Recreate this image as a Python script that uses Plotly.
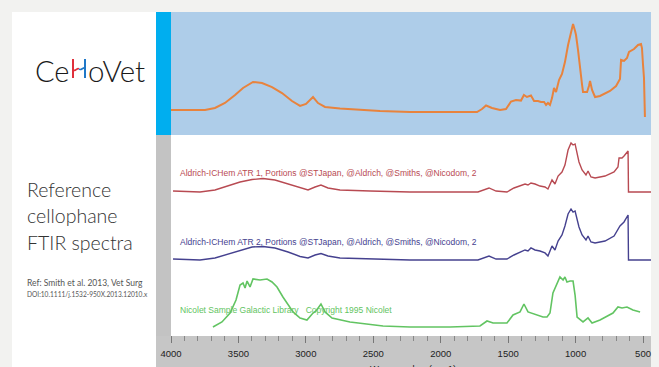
import plotly.graph_objects as go

# ---- spectra (wavenumber in cm-1, relative absorbance) ----
# top panel: sample spectrum
wn_sample = [4000, 3748, 3674, 3600, 3525, 3466, 3392, 3325, 3251, 3177, 3103, 3043, 2999,
             2947, 2910, 2858, 2747, 2599, 2450, 2228, 2005, 1783, 1731, 1694, 1664, 1620,
             1560, 1516, 1479, 1442, 1405, 1383, 1361, 1331, 1308, 1279, 1257, 1234, 1219,
             1205, 1190, 1175, 1160, 1145, 1123, 1101, 1079, 1056, 1041, 1026, 1019, 1004,
             997, 982, 967, 952, 945, 915, 901, 893, 878, 856, 819, 745, 700, 671, 663, 641,
             619, 604, 567, 537, 515, 508, 500, 493, 486]
ab_sample = [0.203, 0.203, 0.22, 0.26, 0.325, 0.382, 0.431, 0.423, 0.39, 0.341, 0.276, 0.236,
             0.252, 0.309, 0.26, 0.228, 0.215, 0.203, 0.195, 0.187, 0.187, 0.183, 0.187, 0.211,
             0.24, 0.22, 0.203, 0.211, 0.272, 0.285, 0.28, 0.325, 0.309, 0.321, 0.276, 0.276,
             0.268, 0.268, 0.244, 0.26, 0.244, 0.3, 0.382, 0.35, 0.447, 0.496, 0.593, 0.732,
             0.805, 0.854, 0.902, 0.846, 0.813, 0.691, 0.528, 0.407, 0.35, 0.35, 0.398, 0.439,
             0.366, 0.309, 0.317, 0.358, 0.398, 0.455, 0.61, 0.602, 0.626, 0.675, 0.699, 0.732,
             0.74, 0.707, 0.569, 0.463, 0.146]

# Aldrich ATR reference 1
wn_atr1 = [3985, 3785, 3674, 3577, 3488, 3399, 3318, 3229, 3132, 3043, 2984, 2932, 2888, 2836,
           2747, 2524, 2228, 1724, 1679, 1642, 1590, 1509, 1457, 1412, 1375, 1353, 1331, 1301,
           1264, 1227, 1205, 1175, 1153, 1130, 1101, 1079, 1056, 1034, 1019, 1004, 989, 975,
           952, 923, 908, 886, 856, 782, 715, 686, 678, 656, 641, 626, 619, 611, 608, 441]
ab_atr1 = [0.138, 0.123, 0.154, 0.215, 0.277, 0.315, 0.331, 0.308, 0.246, 0.185, 0.154, 0.2,
           0.231, 0.185, 0.154, 0.138, 0.123, 0.123, 0.154, 0.185, 0.138, 0.123, 0.185, 0.215,
           0.246, 0.231, 0.262, 0.246, 0.215, 0.2, 0.169, 0.308, 0.246, 0.369, 0.431, 0.538,
           0.769, 0.877, 0.846, 0.862, 0.723, 0.585, 0.462, 0.385, 0.446, 0.354, 0.338, 0.369,
           0.431, 0.508, 0.646, 0.646, 0.677, 0.723, 0.738, 0.754, 0.123, 0.123]

# Aldrich ATR reference 2
wn_atr2 = [3985, 3785, 3674, 3577, 3488, 3399, 3318, 3229, 3132, 3043, 2984, 2932, 2888, 2836,
           2747, 2524, 2228, 1724, 1679, 1642, 1590, 1509, 1457, 1412, 1375, 1353, 1331, 1301,
           1264, 1227, 1205, 1175, 1153, 1130, 1101, 1079, 1056, 1034, 1019, 1004, 989, 975,
           952, 923, 908, 886, 856, 782, 715, 686, 671, 641, 619, 611, 608, 441]
ab_atr2 = [0.092, 0.077, 0.108, 0.169, 0.231, 0.277, 0.285, 0.262, 0.2, 0.131, 0.108, 0.154,
           0.177, 0.138, 0.108, 0.092, 0.077, 0.077, 0.108, 0.138, 0.092, 0.092, 0.154, 0.2,
           0.231, 0.215, 0.262, 0.231, 0.215, 0.185, 0.138, 0.292, 0.231, 0.369, 0.462, 0.6,
           0.785, 0.862, 0.815, 0.831, 0.708, 0.585, 0.462, 0.385, 0.446, 0.354, 0.338, 0.369,
           0.446, 0.538, 0.6, 0.662, 0.754, 0.769, 0.077, 0.077]

# Nicolet library spectrum
wn_nic = [3689, 3622, 3562, 3518, 3488, 3466, 3451, 3436, 3414, 3392, 3340, 3288, 3251, 3214,
          3170, 3132, 3095, 3043, 2992, 2947, 2925, 2888, 2858, 2806, 2673, 2428, 2228, 1931,
          1709, 1657, 1612, 1509, 1464, 1412, 1383, 1353, 1286, 1242, 1212, 1190, 1168, 1138,
          1116, 1093, 1079, 1064, 1041, 1019, 1004, 989, 945, 908, 878, 819, 723, 686, 656,
          619, 575, 522]
ab_nic = [0.114, 0.186, 0.314, 0.5, 0.714, 0.743, 0.671, 0.771, 0.686, 0.8, 0.786, 0.8, 0.757,
          0.686, 0.543, 0.429, 0.329, 0.243, 0.214, 0.314, 0.343, 0.443, 0.329, 0.243, 0.186,
          0.129, 0.114, 0.114, 0.129, 0.2, 0.171, 0.171, 0.286, 0.329, 0.443, 0.329, 0.286,
          0.257, 0.257, 0.314, 0.6, 0.743, 0.829, 0.786, 0.829, 0.757, 0.771, 0.771, 0.571,
          0.257, 0.186, 0.243, 0.171, 0.214, 0.314, 0.4, 0.386, 0.4, 0.357, 0.329]

x_ticks = [4000, 3500, 3000, 2500, 2000, 1500, 1000, 500]
label_atr1 = "Aldrich-ICHem ATR 1, Portions @STJapan, @Aldrich, @Smiths, @Nicodom, 2"
label_atr2 = "Aldrich-ICHem ATR 2, Portions @STJapan, @Aldrich, @Smiths, @Nicodom, 2"
label_nic = "Nicolet Sample Galactic Library&nbsp;&nbsp;&nbsp;Copyright 1995 Nicolet"

W, H = 659, 367


def px(x):
    return x / W


def py(y):
    return 1 - y / H


fig = go.Figure()
fig.add_trace(go.Scatter(x=wn_sample, y=ab_sample, mode="lines", yaxis="y",
                         line=dict(color="#e8833d", width=2)))
fig.add_trace(go.Scatter(x=wn_atr1, y=ab_atr1, mode="lines", yaxis="y2",
                         line=dict(color="#b84a52", width=1.4)))
fig.add_trace(go.Scatter(x=wn_atr2, y=ab_atr2, mode="lines", yaxis="y3",
                         line=dict(color="#45418f", width=1.4)))
fig.add_trace(go.Scatter(x=wn_nic, y=ab_nic, mode="lines", yaxis="y4",
                         line=dict(color="#62c462", width=1.6)))

shapes = [
    # white card
    dict(type="rect", xref="paper", yref="paper", x0=px(12), x1=px(651), y0=py(372), y1=py(12),
         fillcolor="white", line_width=0, layer="below"),
    # light blue panel behind sample spectrum
    dict(type="rect", xref="paper", yref="paper", x0=px(171), x1=px(651), y0=py(135), y1=py(12),
         fillcolor="#aecde9", line_width=0, layer="below"),
    # accent bar
    dict(type="rect", xref="paper", yref="paper", x0=px(156), x1=px(171), y0=py(135), y1=py(12),
         fillcolor="#00aeef", line_width=0, layer="below"),
    # grey frame of the reference chart
    dict(type="rect", xref="paper", yref="paper", x0=px(156), x1=px(171), y0=py(372), y1=py(135),
         fillcolor="#c3c3c3", line_width=0, layer="below"),
    dict(type="rect", xref="paper", yref="paper", x0=px(156), x1=px(651), y0=py(372), y1=py(336),
         fillcolor="#c6c6c6", line_width=0, layer="below"),
    # logo "H": red and blue uprights joined by a wave
    dict(type="line", xref="paper", yref="paper", x0=px(73), x1=px(73), y0=py(78), y1=py(59),
         line=dict(color="#e0313c", width=2)),
    dict(type="line", xref="paper", yref="paper", x0=px(85), x1=px(85), y0=py(78), y1=py(59),
         line=dict(color="#1f78c8", width=2)),
    dict(type="path", xref="paper", yref="paper",
         path=f"M {px(73)},{py(70)} C {px(76)},{py(72)} {px(77)},{py(67)} {px(79)},{py(69)}",
         line=dict(color="#e0313c", width=1.6)),
    dict(type="path", xref="paper", yref="paper",
         path=f"M {px(79)},{py(69)} C {px(81)},{py(71)} {px(83)},{py(67)} {px(85)},{py(68)}",
         line=dict(color="#1f78c8", width=1.6)),
]

ann = []


def text(x, y, s, size, color, family="Lato", anchor="left", weight=None):
    f = dict(size=size, color=color, family=family)
    if weight:
        f["weight"] = weight
    ann.append(dict(x=px(x), y=py(y), xref="paper", yref="paper", text=s, showarrow=False,
                    xanchor=anchor, yanchor="middle", font=f))


text(71, 70, "Ce", 29, "#1a1a1a", anchor="right", weight=300)
text(86, 70, "oVet", 29.5, "#1a1a1a", anchor="left", weight=300)
text(25, 189, "Reference", 19.5, "#333333", weight=300)
text(25, 215, "cellophane", 19.5, "#333333", weight=300)
text(25, 242, "FTIR spectra", 19.5, "#333333", weight=300)
text(25, 283, "Ref: Smith et al. 2013, Vet Surg", 8.5, "#555555")
text(25, 294, "DOI:10.1111/j.1532-950X.2013.12010.x", 6.6, "#555555")
text(178, 173, label_atr1, 8.5, "#b84a52", family="Liberation Sans")
text(178, 242, label_atr2, 8.5, "#45418f", family="Liberation Sans")
text(178, 310, label_nic, 8.5, "#62c462", family="Liberation Sans")
text(413, 368, "Wavenumber (cm-1)", 9.5, "#222222", family="Liberation Sans", anchor="center")

yax = dict(visible=False, fixedrange=True, range=[0, 1], automargin=False)
fig.update_layout(
    template="none",
    width=W, height=H, margin=dict(l=0, r=0, t=0, b=0, pad=0, autoexpand=False),
    paper_bgcolor="#f2f2f0", plot_bgcolor="rgba(0,0,0,0)",
    showlegend=False,
    shapes=shapes, annotations=ann,
    xaxis=dict(domain=[px(171), px(651)], range=[4000, 441], anchor="y4", automargin=False,
               tickvals=x_ticks, ticks="outside", ticklen=7, tickwidth=1, tickcolor="#777777",
               minor=dict(dtick=100, ticks="outside", ticklen=5, tickcolor="#888888"),
               showgrid=False, zeroline=False, showline=False,
               tickfont=dict(family="Liberation Sans", size=9.5, color="#222222"),
               ticklabelstandoff=3),
    yaxis=dict(domain=[py(135), py(12)], **yax),
    yaxis2=dict(domain=[py(200), py(135)], **yax),
    yaxis3=dict(domain=[py(265), py(200)], **yax),
    yaxis4=dict(domain=[py(335), py(265)], **yax),
)

fig.write_html("out.html")
